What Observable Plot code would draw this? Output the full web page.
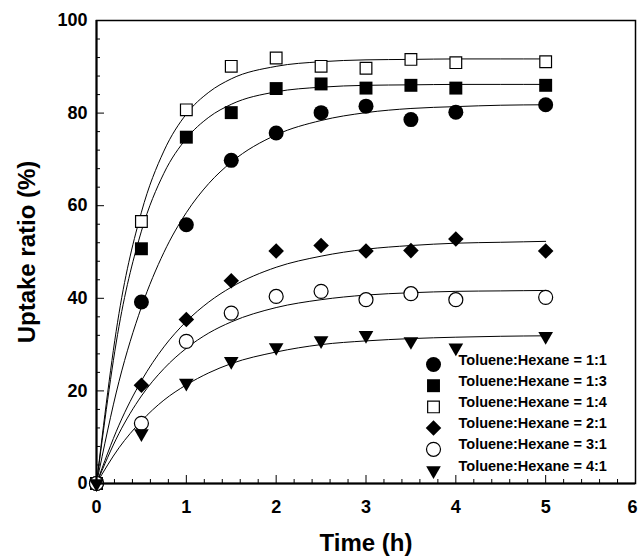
<!DOCTYPE html>
<html>
<head>
<meta charset="utf-8">
<script src="https://cdn.jsdelivr.net/npm/d3@7"></script>
<script src="https://cdn.jsdelivr.net/npm/@observablehq/plot@0.6"></script>
<style>
  html, body { margin: 0; padding: 0; background: #fff; }
  #chart svg { display: block; }
</style>
</head>
<body>
<div id="chart"></div>
<script>
// ---- data ----
const seriesNames = [
  "Toluene:Hexane = 1:1",
  "Toluene:Hexane = 1:3",
  "Toluene:Hexane = 1:4",
  "Toluene:Hexane = 2:1",
  "Toluene:Hexane = 3:1",
  "Toluene:Hexane = 4:1"
];
const times = [0, 0.5, 1, 1.5, 2, 2.5, 3, 3.5, 4, 5];
const uptake11 = [0, 39.2, 55.9, 69.8, 75.7, 80.1, 81.5, 78.6, 80.2, 81.8];
const uptake13 = [0, 50.7, 74.8, 80.1, 85.3, 86.3, 85.4, 86.0, 85.4, 86.0];
const uptake14 = [0, 56.6, 80.7, 90.1, 91.9, 90.1, 89.7, 91.6, 90.9, 91.1];
const uptake21 = [0, 21.2, 35.4, 43.8, 50.2, 51.4, 50.2, 50.3, 52.8, 50.2];
const uptake31 = [0, 13.0, 30.7, 36.8, 40.4, 41.5, 39.7, 41.0, 39.7, 40.2];
const uptake41 = [0, 10.8, 21.7, 26.4, 29.4, 30.9, 32.0, 30.7, 29.3, 31.8];

// fitted curves
const fitTimes = [0, 0.25, 0.5, 0.75, 1, 1.25, 1.5, 2, 2.5, 3, 3.5, 4, 4.5, 5];
const fit11 = [0, 22.0, 38.1, 49.9, 58.5, 64.8, 69.4, 75.3, 78.4, 80.1, 81.0, 81.4, 81.7, 81.8];
const fit13 = [0, 33.9, 54.5, 67.0, 74.5, 79.1, 81.9, 84.6, 85.6, 86.0, 86.1, 86.2, 86.2, 86.2];
const fit14 = [0, 36.7, 58.6, 71.8, 79.8, 84.5, 87.4, 90.1, 91.1, 91.5, 91.6, 91.7, 91.7, 91.7];
const fit21 = [0, 12.6, 22.2, 29.5, 35.0, 39.2, 42.4, 46.7, 49.1, 50.6, 51.4, 51.9, 52.1, 52.3];
const fit31 = [0, 10.8, 18.9, 24.8, 29.2, 32.5, 34.9, 38.0, 39.7, 40.7, 41.2, 41.5, 41.6, 41.7];
const fit41 = [0, 7.7, 13.5, 18.0, 21.3, 23.9, 25.9, 28.4, 30.0, 30.8, 31.3, 31.6, 31.8, 31.9];

// ticks
const xMajor = [0, 1, 2, 3, 4, 5, 6];
const xMinor = d3.range(0, 6.001, 0.2).filter(v => Math.abs(v - Math.round(v)) > 1e-6);
const yMajor = [0, 20, 40, 60, 80, 100];
const yMinor = d3.range(0, 100.001, 4).filter(v => v % 20 !== 0);

// ---- build ----
const uptakes = [uptake11, uptake13, uptake14, uptake21, uptake31, uptake41];
const fits = [fit11, fit13, fit14, fit21, fit31, fit41];

const styles = [
  {symbol: "circle", fill: "black", r: 7.5},
  {symbol: "square", fill: "black", r: 7.3},
  {symbol: "square", fill: "white", stroke: "black", strokeWidth: 1.2, r: 6.6},
  {symbol: "diamond2", fill: "black", r: 7},
  {symbol: "circle", fill: "white", stroke: "black", strokeWidth: 1.2, r: 7},
  {symbol: "triangle2", fill: "black", r: 7, rotate: 180}
];

const W = 639, H = 558;
const mL = 96, mR = 4, mT = 20, mB = 75;
const pw = W - mL - mR, ph = H - mT - mB;

const marks = [];

// fitted lines
fits.forEach((f, i) => {
  const rows = fitTimes.map((t, j) => ({t, v: f[j]}));
  marks.push(Plot.line(rows, {x: "t", y: "v", stroke: "black", strokeWidth: 1, curve: "monotone-x"}));
});

// data points
uptakes.forEach((u, i) => {
  const rows = times.map((t, j) => ({t, v: u[j]}));
  marks.push(Plot.dot(rows, {x: "t", y: "v", ...styles[i]}));
});

// frame and axis lines
marks.push(Plot.frame({stroke: "black", strokeWidth: 1.5}));
marks.push(Plot.ruleY([0], {stroke: "black", strokeWidth: 2}));
marks.push(Plot.ruleX([0], {stroke: "black", strokeWidth: 2}));

// inward ticks
marks.push(Plot.ruleX(xMajor, {x: d => d, insetTop: ph - 8, stroke: "black", strokeWidth: 1}));
marks.push(Plot.ruleX(xMinor, {x: d => d, insetTop: ph - 4, stroke: "black", strokeWidth: 1}));
marks.push(Plot.ruleY(yMajor, {y: d => d, insetRight: pw - 8, stroke: "black", strokeWidth: 1}));
marks.push(Plot.ruleY(yMinor, {y: d => d, insetRight: pw - 4, stroke: "black", strokeWidth: 1}));

// tick labels
const xInner = xMajor.slice(0, -1), xLast = xMajor.slice(-1);
marks.push(Plot.axisX(xInner, {anchor: "bottom", tickSize: 0, tickPadding: 17, label: null, fontSize: 18, fontWeight: "bold"}));
marks.push(Plot.axisX(xLast, {anchor: "bottom", tickSize: 0, tickPadding: 17, label: null, fontSize: 18, fontWeight: "bold", dx: -3}));
marks.push(Plot.axisY(yMajor, {anchor: "left", tickSize: 0, tickPadding: 9, label: null, fontSize: 18, fontWeight: "bold"}));

// axis titles
marks.push(Plot.text(["Time (h)"], {frameAnchor: "bottom", textAnchor: "middle", lineAnchor: "bottom", dy: 67, fontSize: 24, fontWeight: "bold", fill: "black"}));
marks.push(Plot.text(["Uptake ratio (%)"], {frameAnchor: "left", textAnchor: "middle", lineAnchor: "middle", rotate: -90, dx: -69, fontSize: 24, fontWeight: "bold", fill: "black"}));

// legend (inside plot, lower right)
const legSymX = 337, legTextX = 362, legRow0 = -119, legStep = 21.2;
seriesNames.forEach((name, i) => {
  const dy = legRow0 + i * legStep;
  marks.push(Plot.dot([name], {frameAnchor: "bottom-left", dx: legSymX, dy, ...styles[i]}));
  marks.push(Plot.text([name], {text: d => d, frameAnchor: "bottom-left", dx: legTextX, dy, textAnchor: "start", fontSize: 14.5, fontWeight: "bold", fill: "black"}));
});

const chart = Plot.plot({
  width: W,
  height: H,
  marginLeft: mL,
  marginRight: mR,
  marginTop: mT,
  marginBottom: mB,
  x: {domain: [0, 6], axis: null},
  y: {domain: [0, 100], axis: null},
  style: {fontFamily: "'Liberation Sans', Arial, sans-serif", fontWeight: "bold", color: "black", background: "white"},
  marks
});
document.getElementById("chart").appendChild(chart);
</script>
</body>
</html>
